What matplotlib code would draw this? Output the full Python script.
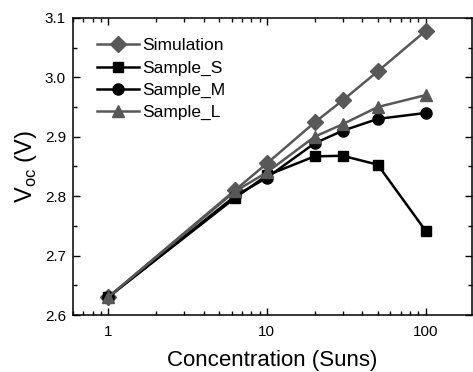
import matplotlib
matplotlib.use('Agg')
import matplotlib.pyplot as plt
from matplotlib.ticker import LogLocator, MultipleLocator, FixedLocator, NullFormatter

plt.rcParams['font.family'] = ['Liberation Sans', 'DejaVu Sans']

# concentration (suns)
conc = [1, 6.3, 10, 20, 30, 50, 100]

# open circuit voltage (V)
v_sim = [2.630, 2.810, 2.855, 2.924, 2.961, 3.010, 3.078]
v_s = [2.630, 2.797, 2.835, 2.867, 2.868, 2.853, 2.742]
v_m = [2.630, 2.800, 2.831, 2.889, 2.910, 2.930, 2.940]
v_l = [2.630, 2.808, 2.840, 2.900, 2.921, 2.950, 2.970]

gray = '#585858'

fig = plt.figure(figsize=(4.73, 3.72), dpi=100)
ax = fig.add_axes([0.154, 0.153, 0.843, 0.799])

ax.plot(conc, v_sim, color=gray, marker='D', ms=8, lw=1.8, label='Simulation')
ax.plot(conc, v_s, color='black', marker='s', ms=7.5, lw=1.8, label='Sample_S')
ax.plot(conc, v_m, color='black', marker='o', ms=8, lw=1.8, label='Sample_M')
ax.plot(conc, v_l, color=gray, marker='^', ms=9, lw=1.8, label='Sample_L')

ax.set_xscale('log')
ax.set_xlim(0.6, 195)
ax.set_ylim(2.6, 3.1)
ax.xaxis.set_major_locator(FixedLocator([1, 10, 100]))
ax.xaxis.set_major_formatter(matplotlib.ticker.FixedFormatter(['1', '10', '100']))
ax.xaxis.set_minor_locator(LogLocator(base=10, subs=range(2, 10)))
ax.xaxis.set_minor_formatter(NullFormatter())
ax.yaxis.set_major_locator(MultipleLocator(0.1))
ax.yaxis.set_minor_locator(MultipleLocator(0.05))
ax.yaxis.set_major_formatter(matplotlib.ticker.FormatStrFormatter('%.1f'))

ax.tick_params(which='both', direction='in', top=True, right=True, labelsize=11, width=1.0)
ax.tick_params(which='major', length=5)
ax.tick_params(which='minor', length=3)
ax.tick_params(axis='y', which='major', pad=5)
ax.tick_params(axis='x', which='major', pad=7)
for s in ax.spines.values():
    s.set_linewidth(1.1)

ax.set_xlabel('Concentration (Suns)', fontsize=16, labelpad=8)
ax.set_ylabel(r'V$_{\mathregular{oc}}$ (V)', fontsize=17, labelpad=4)

ax.legend(loc='upper left', frameon=False, fontsize=12.5, handlelength=2.4,
          handletextpad=0.2, labelspacing=0.4, borderaxespad=0.3,
          bbox_to_anchor=(0.03, 0.972))

fig.savefig('out.png', dpi=100)
